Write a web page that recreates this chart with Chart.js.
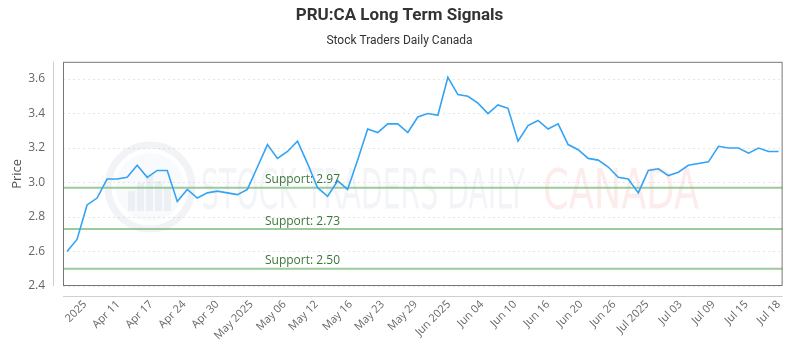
<!DOCTYPE html>
<html>
<head>
<meta charset="utf-8">
<script src="https://cdn.jsdelivr.net/npm/chart.js@4.4.1/dist/chart.umd.min.js"></script>
<style>
  html, body { margin: 0; padding: 0; background: #fff; }
  #wrap { width: 800px; height: 350px; }
</style>
</head>
<body>
<div id="wrap"><canvas id="priceChart"></canvas></div>
<script>
// trading days, Apr 7 - Jul 18 2025
const dates = [
  'Apr 07','Apr 08','Apr 09','Apr 10','Apr 11','Apr 14','Apr 15','Apr 16','Apr 17','Apr 21','Apr 22','Apr 23','Apr 24','Apr 25','Apr 28','Apr 29','Apr 30',
  'May 01','May 02','May 05','May 06','May 07','May 08','May 09','May 12','May 13','May 14','May 15','May 16','May 20','May 21','May 22','May 23','May 26','May 27','May 28','May 29','May 30',
  'Jun 02','Jun 03','Jun 04','Jun 05','Jun 06','Jun 09','Jun 10','Jun 11','Jun 12','Jun 13','Jun 16','Jun 17','Jun 18','Jun 19','Jun 20','Jun 23','Jun 24','Jun 25','Jun 26','Jun 27','Jun 30',
  'Jul 02','Jul 03','Jul 04','Jul 07','Jul 08','Jul 09','Jul 10','Jul 11','Jul 14','Jul 15','Jul 16','Jul 17','Jul 18'
];
const prices = [
  2.60, 2.67, 2.87, 2.91, 3.02, 3.02, 3.03, 3.10, 3.03, 3.07, 3.07, 2.89, 2.96, 2.91, 2.94, 2.95, 2.94,
  2.93, 2.96, 3.09, 3.22, 3.14, 3.18, 3.24, 3.11, 2.97, 2.92, 3.01, 2.96, 3.13, 3.31, 3.29, 3.34, 3.34, 3.29, 3.38, 3.40, 3.39,
  3.61, 3.51, 3.50, 3.46, 3.40, 3.45, 3.43, 3.24, 3.33, 3.36, 3.31, 3.34, 3.22, 3.19, 3.14, 3.13, 3.09, 3.03, 3.02, 2.94, 3.07,
  3.08, 3.04, 3.06, 3.10, 3.11, 3.12, 3.21, 3.20, 3.20, 3.17, 3.20, 3.18, 3.18
];
const supports = [2.97, 2.73, 2.50];

const xTickLabels = ['2025','Apr 11','Apr 17','Apr 24','Apr 30','May 2025','May 06','May 12','May 16','May 23','May 29',
  'Jun 2025','Jun 04','Jun 10','Jun 16','Jun 20','Jun 26','Jul 2025','Jul 03','Jul 09','Jul 15','Jul 18'];
const xTickPos = [1.8, 5.1, 8.4, 11.7, 15.0, 18.4, 21.7, 24.9, 28.3, 31.5, 34.8, 38.1, 41.4, 44.7, 48.0, 51.3, 54.6, 57.9, 61.2, 64.5, 67.8, 71.0];
const yTicks = [2.4, 2.6, 2.8, 3.0, 3.2, 3.4, 3.6];

const xMin = -0.4, xMax = dates.length - 1 + 0.4;

const priceData = prices.map((v, i) => ({ x: i, y: v }));

const datasets = [{
  label: 'Price',
  data: priceData,
  borderColor: '#33a3f4',
  borderWidth: 1.6,
  pointRadius: 0,
  tension: 0,
  fill: false
}];
supports.forEach(s => {
  datasets.push({
    label: 'Support: ' + s.toFixed(2),
    data: [{ x: xMin, y: s }, { x: xMax, y: s }],
    borderColor: 'rgba(120,185,120,0.75)',
    borderWidth: 2,
    pointRadius: 0,
    fill: false
  });
});

const frame = {
  id: 'frame',
  beforeDatasetsDraw(chart) {
    const { ctx } = chart;
    ctx.save();
    // watermark logo
    const cx = 150, cy = 187;
    ctx.globalAlpha = 0.12;
    ctx.strokeStyle = '#8a9bbf';
    ctx.lineWidth = 7;
    ctx.beginPath();
    ctx.arc(cx, cy, 42, 0, Math.PI * 2);
    ctx.stroke();
    ctx.fillStyle = '#8a9bbf';
    ctx.beginPath();
    ctx.arc(cx, cy, 34, 0, Math.PI * 2);
    ctx.globalAlpha = 0.05;
    ctx.fill();
    ctx.globalAlpha = 0.12;
    [[-22, 12], [-13, 20], [-4, 28], [5, 22], [14, 16]].forEach(b => {
      ctx.fillRect(cx + b[0], cy + 24 - b[1] - 8, 7, b[1] + 8);
    });
    ctx.globalAlpha = 1;
    ctx.font = '56px "DejaVu Sans Condensed", "DejaVu Sans"';
    ctx.textBaseline = 'alphabetic';
    ctx.textAlign = 'left';
    ctx.fillStyle = 'rgba(180,188,215,0.17)';
    ctx.fillText('STOCK TRADERS DAILY', 201, 208, 324);
    ctx.fillStyle = 'rgba(240,110,110,0.13)';
    ctx.fillText('CANADA', 543, 208, 156);
    ctx.restore();
  },
  afterDatasetsDraw(chart) {
    const { ctx, chartArea: a, scales } = chart;
    ctx.save();
    ctx.font = '12px "Open Sans"';
    ctx.fillStyle = '#3a773a';
    ctx.textAlign = 'left';
    ctx.textBaseline = 'bottom';
    supports.forEach(s => {
      const y = scales.y.getPixelForValue(s);
      ctx.fillText('Support: ' + s.toFixed(2), a.left + 202, y - 2);
    });
    ctx.strokeStyle = '#777';
    ctx.lineWidth = 1;
    ctx.strokeRect(a.left + 0.5, a.top + 0.5, a.width - 1, a.height - 1);
    ctx.strokeStyle = '#cfcfcf';
    ctx.beginPath();
    ctx.moveTo(a.left - 9.5, a.top);
    ctx.lineTo(a.left - 9.5, a.bottom);
    ctx.moveTo(a.left, a.bottom + 10.5);
    ctx.lineTo(a.right, a.bottom + 10.5);
    ctx.stroke();
    ctx.restore();
  }
};

new Chart(document.getElementById('priceChart'), {
  type: 'line',
  data: { datasets: datasets },
  plugins: [frame],
  options: {
    responsive: true,
    maintainAspectRatio: false,
    animation: false,
    layout: { padding: { left: 9, right: 10, top: 0, bottom: 0 } },
    plugins: {
      legend: { display: false },
      tooltip: { enabled: false },
      title: {
        display: true,
        text: 'PRU:CA Long Term Signals',
        color: '#333',
        font: { family: '"Liberation Sans Narrow", "Roboto"', size: 17, weight: 'bold' },
        padding: { top: 6, bottom: 5 }
      },
      subtitle: {
        display: true,
        text: 'Stock Traders Daily Canada',
        color: '#333',
        font: { family: '"Liberation Sans Narrow", "Roboto"', size: 12 },
        padding: { top: 2, bottom: 14 }
      }
    },
    scales: {
      x: {
        type: 'linear',
        min: xMin,
        max: xMax,
        grid: { display: false, drawTicks: false },
        border: { display: false },
        afterBuildTicks: s => { s.ticks = xTickPos.map(v => ({ value: v })); },
        afterFit: s => { s.height = 64; },
        ticks: {
          autoSkip: false,
          minRotation: 45,
          maxRotation: 45,
          padding: 12,
          color: '#666',
          font: { family: '"Open Sans"', size: 11 },
          callback: (v, i) => xTickLabels[i]
        }
      },
      y: {
        min: 2.4,
        max: 3.7,
        afterBuildTicks: s => { s.ticks = yTicks.map(v => ({ value: v })); },
        afterFit: s => { s.width = 54; },
        grid: { color: '#e6e6e6', drawTicks: false },
        border: { display: false, dash: [2, 3] },
        ticks: {
          padding: 18,
          color: '#666',
          font: { family: '"Open Sans"', size: 12 },
          callback: v => v.toFixed(1)
        },
        title: {
          display: true,
          text: 'Price',
          color: '#555',
          font: { family: '"Open Sans"', size: 13 },
          padding: 0
        }
      }
    }
  }
});
</script>
</body>
</html>
